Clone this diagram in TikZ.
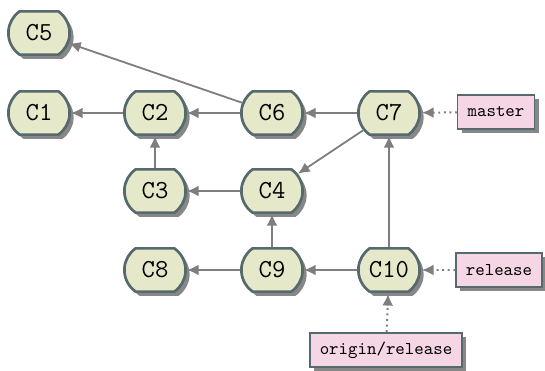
\documentclass[tikz,border=0pt]{standalone}
\usetikzlibrary{shapes.misc,shadows,arrows.meta}
\definecolor{cfill}{HTML}{E6E8CA}
\definecolor{cdraw}{HTML}{566A6E}
\definecolor{lfill}{HTML}{F5D6E4}
\definecolor{shade}{HTML}{878787}
\definecolor{edge}{HTML}{7E7E7E}
\tikzset{
  commit/.style={rounded rectangle, rounded rectangle arc length=110, draw=cdraw, line width=1.5pt, fill=cfill,
    minimum width=36pt, minimum height=24pt, inner sep=1pt, font=\ttfamily\Large,
    drop shadow={shadow xshift=2.2pt, shadow yshift=-2.4pt, fill=shade, opacity=1}},
  ref/.style={rectangle, draw=cdraw, line width=0.8pt, fill=lfill, minimum height=19pt, inner xsep=5.5pt, font=\ttfamily,
    drop shadow={shadow xshift=2.4pt, shadow yshift=-2.4pt, fill=shade, opacity=1}},
  par/.style={draw=edge, line width=1pt, -{Latex[length=6.5pt,width=6pt]}},
  ptr/.style={draw=edge, line width=1.1pt, dotted, -{Latex[length=6.5pt,width=6pt]}, shorten >=0.5pt}
}
\begin{document}
\begin{tikzpicture}[x=0.555pt,y=-0.555pt]
\useasboundingbox (0,0) rectangle (545,370);
\node[commit] (c5) at (39,33) {C5};
\node[commit] (c1) at (39,113) {C1};
\node[commit] (c2) at (155,113) {C2};
\node[commit] (c6) at (272,113) {C6};
\node[commit] (c7) at (389,113) {C7};
\node[commit] (c3) at (155,191) {C3};
\node[commit] (c4) at (272,191) {C4};
\node[commit] (c8) at (155,270) {C8};
\node[commit] (c9) at (272,270) {C9};
\node[commit] (c10) at (389,270) {C10};
\node[ref] (master) at (496,112) {master};
\node[ref] (release) at (499,270) {release};
\node[ref] (origin) at (386,350) {origin/release};
\draw[par] (c2) -- (c1);
\draw[par] (c6) -- (c2);
\draw[par] (c7) -- (c6);
\draw[par] (c6) -- (c5);
\draw[par] (c3) -- (c2);
\draw[par] (c4) -- (c3);
\draw[par] (c7) -- (c4);
\draw[par] (c9) -- (c8);
\draw[par] (c9) -- (c4);
\draw[par] (c10) -- (c9);
\draw[par] (c10) -- (c7);
\draw[ptr] (master) -- (c7);
\draw[ptr] (release) -- (c10);
\draw[ptr] (origin) -- (c10);
\end{tikzpicture}
\end{document}
